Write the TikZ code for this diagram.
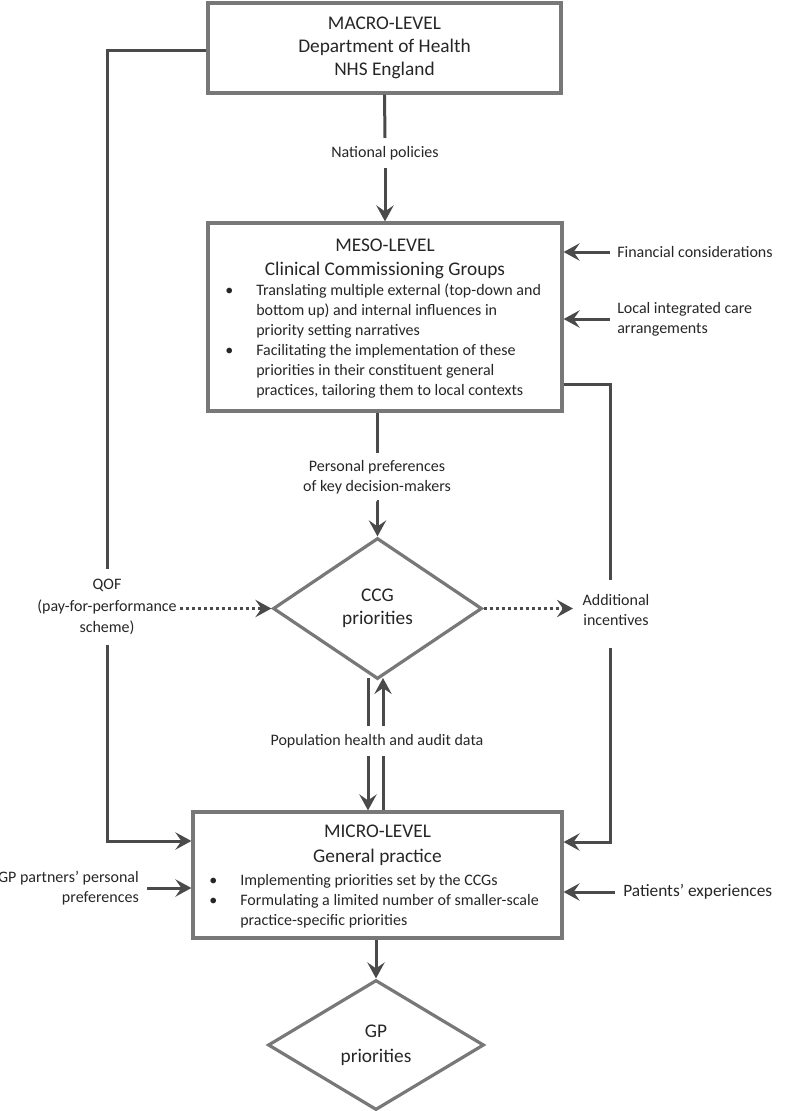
\documentclass[tikz,border=0pt]{standalone}
\usepackage{fontspec}
\setmainfont{Carlito}
\usetikzlibrary{arrows.meta,shapes.geometric}
\definecolor{boxc}{HTML}{787878}
\definecolor{linec}{HTML}{4A4A4A}
\definecolor{textc}{HTML}{262626}
\newcommand{\hdfont}{\fontsize{14.5}{17.25}\selectfont}
\newcommand{\bdfont}{\fontsize{12}{15}\selectfont}
\begin{document}
\begin{tikzpicture}[x=0.75pt,y=-0.75pt,
  box/.style={draw=boxc, line width=2.4pt, inner sep=0pt},
  dia/.style={diamond, draw=boxc, line width=2.4pt, inner sep=0pt, text=textc, align=center},
  conn/.style={draw=linec, line width=2.25pt},
  arr/.style={conn, -{Stealth[length=12pt,width=13pt,inset=4.5pt]}},
  dotarr/.style={conn, dash pattern=on 2.25pt off 2.25pt, -{Stealth[length=12pt,width=13pt,inset=4.5pt]}},
  hd/.style={text=textc, font=\hdfont, align=center, inner sep=0pt},
  lbl/.style={text=textc, font=\bdfont, inner sep=0pt},
]
\useasboundingbox (0,0) rectangle (800,1111);

% boxes
\node[box, hd, inner sep=0pt, minimum width=264.75pt, minimum height=67.5pt] (macro) at (384.5,48)
  {MACRO-LEVEL\\Department of Health\\NHS England};
\node[box, minimum width=265.5pt, minimum height=141pt] (meso) at (385,317) {};
\node[hd, text depth=0pt] (mesot) at (385,257) {MESO-LEVEL\\[0.75pt]Clinical Commissioning Groups};
\node[lbl, anchor=base west] (mesob) at (225,295) {\begin{tabular}[t]{@{}p{23.25pt}@{}l@{}}
\textbullet & Translating multiple external (top-down and\\
 & bottom up) and internal influences in\\
 & priority setting narratives\\
\textbullet & Facilitating the implementation of these\\
 & priorities in their constituent general\\
 & practices, tailoring them to local contexts
\end{tabular}};

\node[box, minimum width=276.75pt, minimum height=94.5pt] (micro) at (377.5,875) {};
\node[hd] (microt) at (377.5,845.5) {MICRO-LEVEL\\[1.5pt]General practice};
\node[lbl, anchor=base west] (microb) at (209,885) {\begin{tabular}[t]{@{}p{23.25pt}@{}l@{}}
\textbullet & Implementing priorities set by the CCGs\\
\textbullet & Formulating a limited number of smaller-scale\\
 & practice-specific priorities
\end{tabular}};

% diamonds
\node[dia, font=\hdfont, minimum width=156.75pt, minimum height=105.75pt] (ccg) at (377.5,608.5) {CCG\\priorities};
\node[dia, font=\fontsize{14.5}{19}\selectfont, minimum width=162pt, minimum height=97.5pt] (gp) at (376,1045) {GP\\priorities};

% labels
\node[lbl, inner ysep=6pt] (natpol) at (385,153) {National policies};
\node[lbl, anchor=west, inner xsep=5.25pt] (fin) at (610,252) {Financial considerations};
\node[lbl, anchor=west, inner xsep=5.25pt, align=left] (loc) at (610,319) {Local integrated care\\arrangements};
\node[lbl, align=center, inner ysep=5.25pt] (pp) at (377,477) {Personal preferences\\of key decision-makers};
\node[lbl, font=\fontsize{12}{16}\selectfont, align=center, inner xsep=2.25pt, inner ysep=7.5pt] (qof) at (107,607) {QOF\\(pay-for-performance\\scheme)};
\node[lbl, font=\fontsize{12}{15}\selectfont, align=center, inner xsep=7pt] (addinc) at (616,610) {Additional\\incentives};
\node[lbl, inner ysep=6pt] (pop) at (377,741) {Population health and audit data};
\node[lbl, align=right, anchor=east, inner xsep=6pt] (gpp) at (147,888) {GP partners’ personal\\preferences};
\node[lbl, font=\fontsize{13}{15}\selectfont, anchor=west, inner xsep=6pt] (pat) at (615,892) {Patients’ experiences};

% coordinates
\coordinate (l1) at (107,50);
\coordinate (l4) at (107,841);
\coordinate (r1) at (610,384);
\coordinate (r2) at (610,580);
\coordinate (r3) at (610,648);
\coordinate (r4) at (610,842);
\coordinate (dn) at (368,678);
\coordinate (up) at (383,678);

% connectors
\draw[conn] (macro.south) -- (natpol.north);
\draw[arr] (natpol.south) -- (meso.north);
\draw[arr] (fin.west) -- (fin.west -| meso.east);
\draw[arr] (loc.west) -- (loc.west -| meso.east);
\draw[conn] (meso.south -| pp.north) -- (pp.north);
\draw[arr] (pp.south) -- (pp.south -| ccg.north) -- (ccg.north);
\draw[conn] (macro.west |- l1) -- (l1) -- (qof.north);
\draw[arr] (qof.south) -- (l4) -- (micro.west |- l4);
\draw[conn] (meso.east |- r1) -- (r1) -- (r2);
\draw[arr] (r3) -- (r4) -- (micro.east |- r4);
\draw[dotarr] (ccg.west -| qof.east) -- (ccg.west);
\draw[dotarr] (ccg.east) -- (ccg.east -| addinc.west);
\draw[conn] (dn) -- (pop.north -| dn);
\draw[arr] (pop.south -| dn) -- (micro.north -| dn);
\draw[conn] (micro.north -| up) -- (pop.south -| up);
\draw[arr] (pop.north -| up) -- (up);
\draw[arr] (gpp.east) -- (gpp.east -| micro.west);
\draw[arr] (pat.west) -- (pat.west -| micro.east);
\draw[arr] (micro.south -| gp.north) -- (gp.north);
\end{tikzpicture}
\end{document}
